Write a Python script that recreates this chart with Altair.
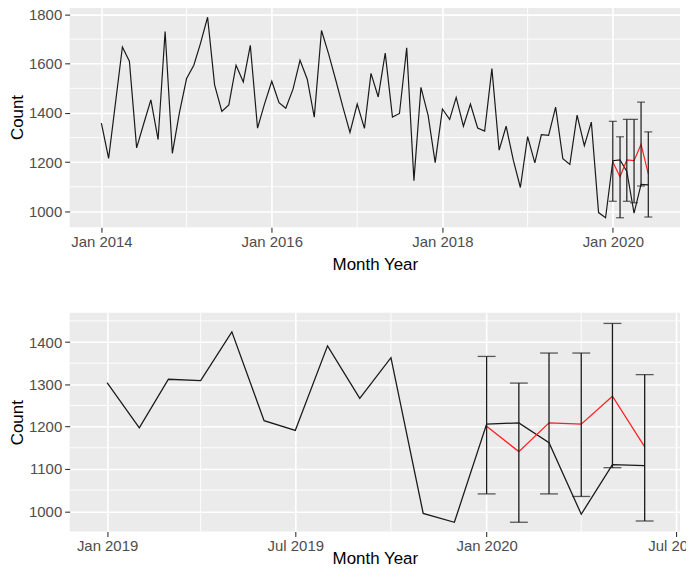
import altair as alt
import pandas as pd

# ---- data ----
counts = [
    1359, 1215, 1430, 1668, 1610, 1258, 1355, 1453, 1292, 1731, 1236, 1399,   # 2014
    1540, 1594, 1681, 1789, 1514, 1406, 1433, 1594, 1526, 1675, 1338, 1437,   # 2015
    1529, 1442, 1419, 1497, 1614, 1537, 1383, 1735, 1638, 1534, 1423, 1321,   # 2016
    1436, 1337, 1561, 1465, 1643, 1383, 1398, 1665, 1125, 1504, 1389, 1198,   # 2017
    1416, 1374, 1463, 1346, 1436, 1339, 1326, 1580, 1249, 1346, 1207, 1097,   # 2018
    1304, 1197, 1312, 1309, 1424, 1214, 1191, 1391, 1267, 1363, 995, 974,     # 2019
    1206, 1209, 1162, 993, 1110, 1108,                                        # 2020
]
dates = list(pd.date_range("2014-01-01", periods=len(counts), freq="MS").strftime("%Y-%m-%d"))

fc_dates = ["2020-01-01", "2020-02-01", "2020-03-01", "2020-04-01", "2020-05-01", "2020-06-01"]
forecast = [1201, 1141, 1209, 1206, 1272, 1152]
lower = [1041, 974, 1041, 1035, 1103, 977]
upper = [1366, 1303, 1374, 1374, 1444, 1323]

top_x_ticks = ["2014-01-01", "2016-01-01", "2018-01-01", "2020-01-01"]
top_x_minor = ["2015-01-01", "2017-01-01", "2019-01-01"]
top_y_ticks = [1000, 1200, 1400, 1600, 1800]
top_y_minor = [1100, 1300, 1500, 1700]
top_x_domain = ["2013-08-18", "2020-10-15"]
top_y_domain = [935, 1832]

bot_x_ticks = ["2019-01-01", "2019-07-01", "2020-01-01", "2020-07-01"]
bot_x_minor = ["2019-04-01", "2019-10-01", "2020-04-01"]
bot_y_ticks = [1000, 1100, 1200, 1300, 1400]
bot_y_minor = [1050, 1150, 1250, 1350, 1450]
bot_x_domain = ["2018-11-26", "2020-07-05"]
bot_y_domain = [952, 1469]
bot_start = "2019-01-01"

FONT = "Liberation Sans"


def ms(s):
    return int(pd.Timestamp(s, tz="UTC").timestamp() * 1000)


actual_df = pd.DataFrame({"date": dates, "count": counts})
fc_df = pd.DataFrame({"date": fc_dates, "count": forecast, "lower": lower, "upper": upper})


def panel(df, x_ticks, x_minor, y_ticks, y_minor, x_dom, y_dom, cap, lw, h, tpad):
    xs = alt.Scale(type="utc", domain=[ms(d) for d in x_dom], nice=False)
    ys = alt.Scale(domain=y_dom, nice=False, zero=False)
    xaxis = alt.Axis(values=[ms(d) for d in x_ticks], format="%b %Y", title="Month Year",
                     grid=True, gridColor="white", gridWidth=1.6, domain=False,
                     tickColor="#333333", tickSize=5, tickWidth=1.1,
                     labelColor="#4D4D4D", labelFont=FONT, labelFontSize=15, labelPadding=2,
                     labelFlush=False, labelOverlap=False,
                     titleFont=FONT, titleFontSize=17, titleFontWeight="normal",
                     titleColor="black", titlePadding=tpad)
    yaxis = alt.Axis(values=y_ticks, format="d", title="Count", grid=True, gridColor="white",
                     gridWidth=1.6, domain=False, tickColor="#333333", tickSize=5, tickWidth=1.1,
                     labelColor="#4D4D4D", labelFont=FONT, labelFontSize=15, labelPadding=3,
                     titleFont=FONT, titleFontSize=17, titleFontWeight="normal",
                     titleColor="black", titlePadding=2)
    vminor = alt.Chart(pd.DataFrame({"date": x_minor})).mark_rule(
        color="white", strokeWidth=0.9).encode(x=alt.X("date:T", scale=xs, axis=xaxis))
    hminor = alt.Chart(pd.DataFrame({"count": y_minor})).mark_rule(
        color="white", strokeWidth=0.9).encode(y=alt.Y("count:Q", scale=ys, axis=yaxis))
    line = alt.Chart(df).mark_line(color="#1a1a1a", strokeWidth=lw).encode(
        x=alt.X("date:T", scale=xs, axis=xaxis), y=alt.Y("count:Q", scale=ys, axis=yaxis))
    red = alt.Chart(fc_df).mark_line(color="#ff2020", strokeWidth=lw).encode(
        x="date:T", y="count:Q")
    bars = alt.Chart(fc_df).mark_rule(color="#1a1a1a", strokeWidth=lw).encode(
        x="date:T", y="lower:Q", y2="upper:Q")
    cap_lo = alt.Chart(fc_df).mark_tick(color="#1a1a1a", orient="horizontal", size=cap,
                                        thickness=lw).encode(x="date:T", y="lower:Q")
    cap_hi = alt.Chart(fc_df).mark_tick(color="#1a1a1a", orient="horizontal", size=cap,
                                        thickness=lw).encode(x="date:T", y="upper:Q")
    return alt.layer(vminor, hminor, line, red, bars, cap_lo, cap_hi).properties(
        width=614, height=h)


top = panel(actual_df, top_x_ticks, top_x_minor, top_y_ticks, top_y_minor,
            top_x_domain, top_y_domain, 8, 1.2, 222, 7)
bot_df = actual_df[actual_df["date"] >= bot_start]
bottom = panel(bot_df, bot_x_ticks, bot_x_minor, bot_y_ticks, bot_y_minor,
               bot_x_domain, bot_y_domain, 18, 1.3, 220, -3)

chart = alt.vconcat(top, bottom, spacing=86, bounds="flush").properties(
    padding={"left": 0, "top": -4, "right": -19, "bottom": 1},
    background="white",
).configure_view(fill="#EBEBEB", strokeWidth=0)

chart.save("out.html", embed_options={"renderer": "svg", "actions": False})
